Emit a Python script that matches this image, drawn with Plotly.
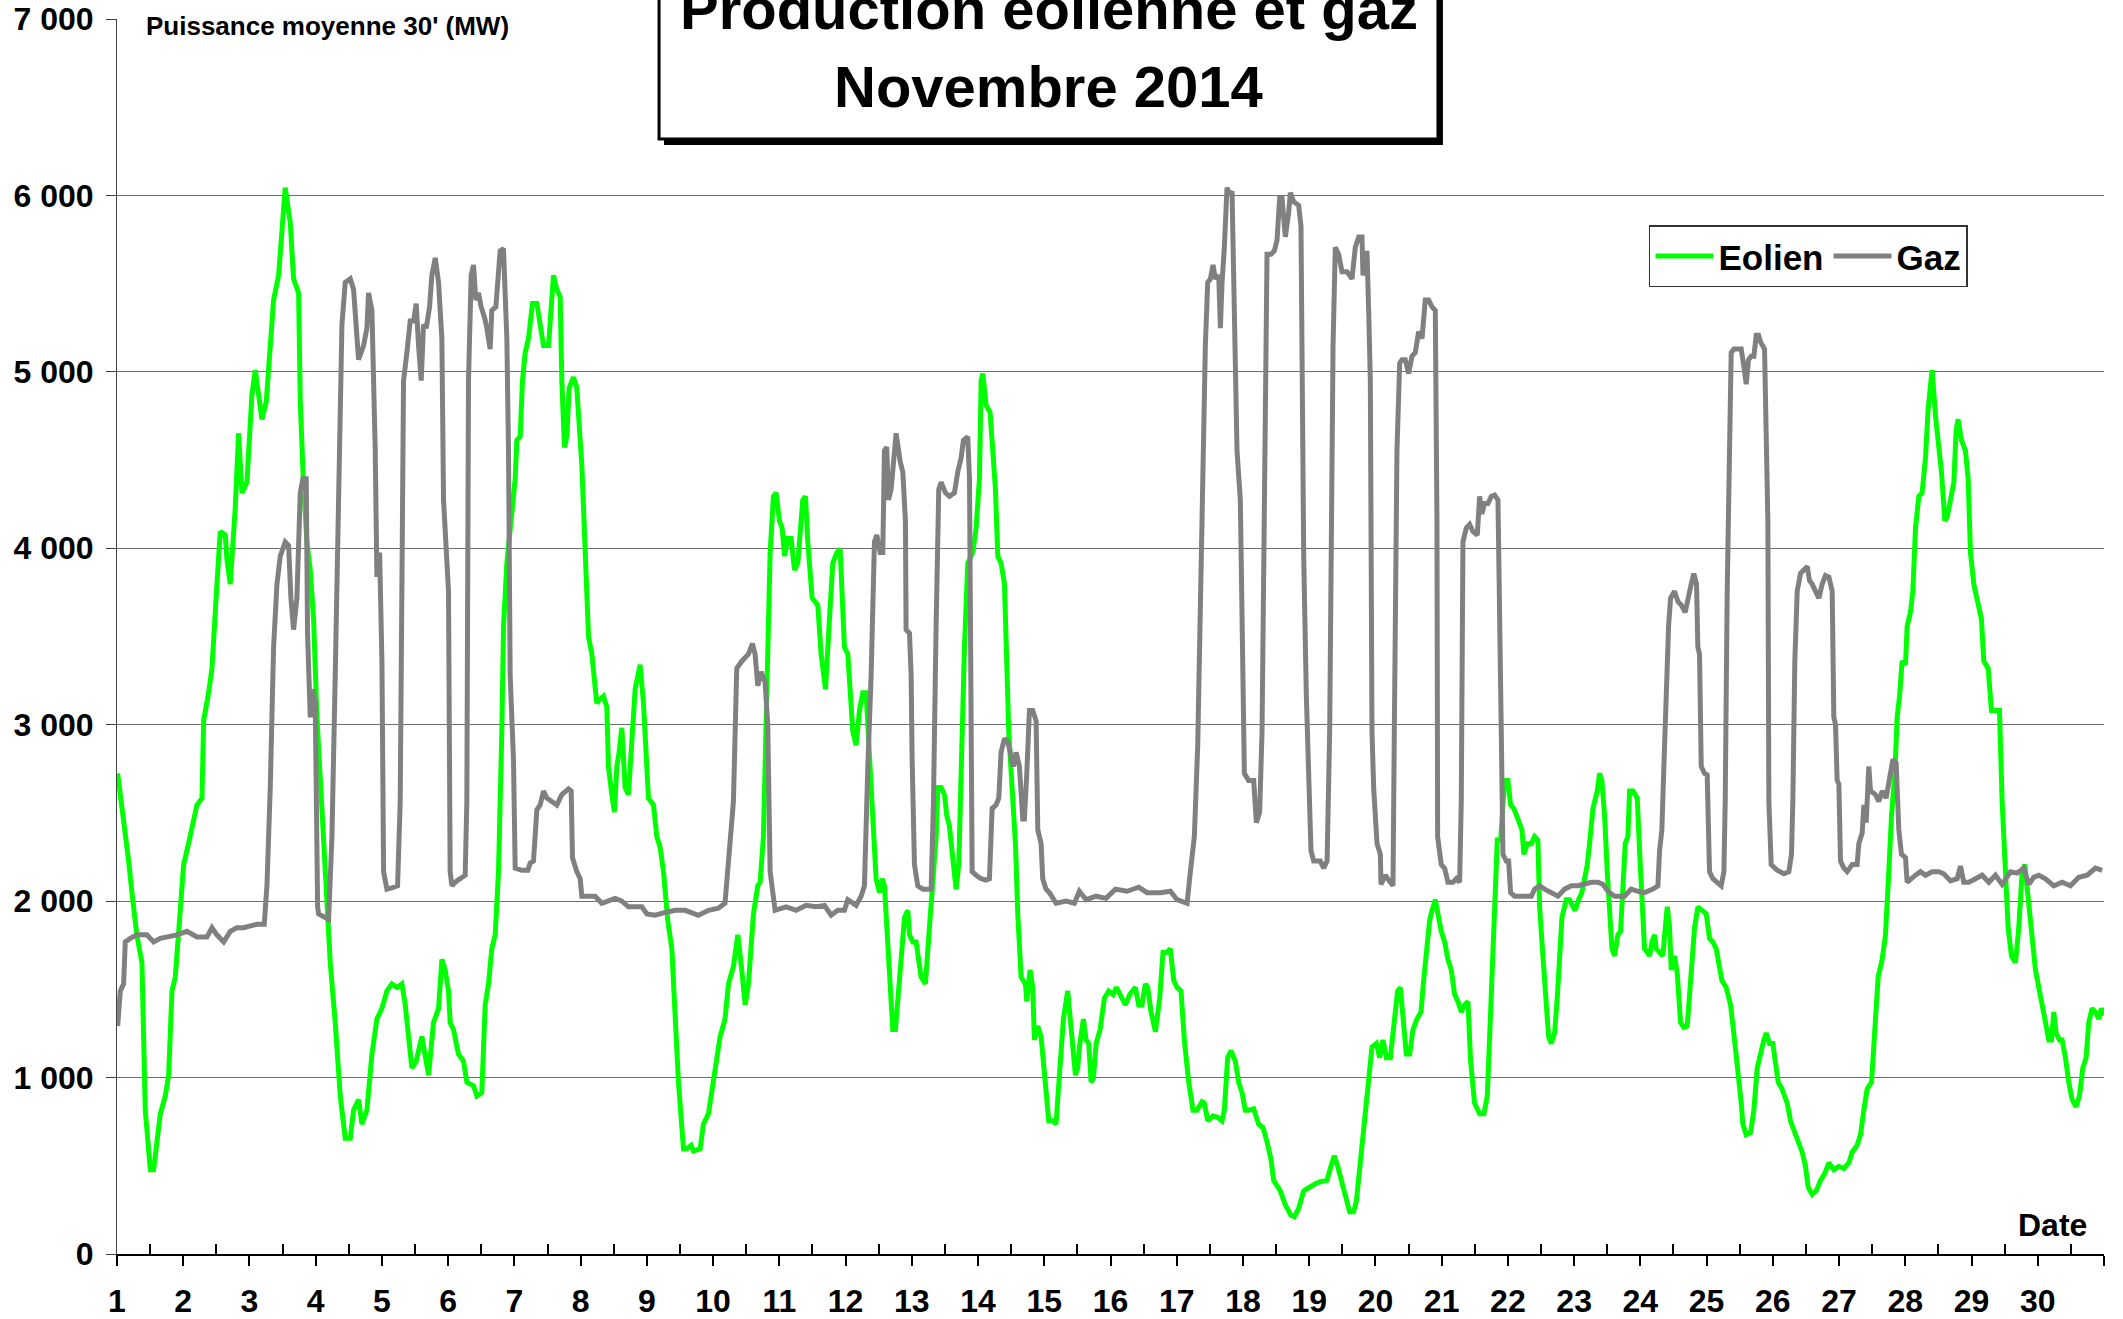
import plotly.graph_objects as go

# ---------------- data (day of month, MW) ----------------
eolien = [
    (1.01, 2724), (1.075, 2545), (1.125, 2386), (1.176, 2227), (1.226, 2048), (1.30, 1809), (1.377, 1650),
    (1.427, 815), (1.503, 477), (1.553, 477), (1.654, 795), (1.729, 895), (1.78, 1014), (1.83, 1491),
    (1.88, 1570), (1.955, 1928), (2.006, 2207), (2.08, 2326), (2.132, 2425), (2.207, 2545), (2.283, 2584),
    (2.308, 3022), (2.383, 3181), (2.434, 3320), (2.509, 3797), (2.559, 4095), (2.635, 4075), (2.66, 3936),
    (2.71, 3797), (2.786, 4234), (2.836, 4652), (2.886, 4314), (2.962, 4374), (3.037, 4870), (3.088, 5010),
    (3.138, 4870), (3.188, 4731), (3.254, 4831), (3.314, 5189), (3.364, 5407), (3.44, 5547), (3.49, 5765),
    (3.54, 6044), (3.616, 5845), (3.666, 5527), (3.742, 5447), (3.767, 4831), (3.817, 4354), (3.868, 4036),
    (3.918, 3877), (3.968, 3598), (4.019, 3042), (4.119, 2366), (4.17, 2008), (4.22, 1650), (4.295, 1312),
    (4.371, 895), (4.446, 656), (4.522, 656), (4.572, 815), (4.647, 875), (4.698, 736), (4.773, 815),
    (4.849, 1133), (4.924, 1332), (5.0, 1392), (5.075, 1491), (5.15, 1531), (5.226, 1511), (5.301, 1531),
    (5.352, 1412), (5.452, 1054), (5.518, 1093), (5.603, 1233), (5.704, 1014), (5.779, 1312), (5.855, 1392),
    (5.905, 1670), (5.955, 1610), (6.005, 1491), (6.03, 1312), (6.08, 1272), (6.156, 1133), (6.232, 1093),
    (6.282, 974), (6.383, 954), (6.433, 895), (6.508, 915), (6.559, 1412), (6.609, 1531), (6.659, 1730),
    (6.71, 1809), (6.76, 2167), (6.81, 2962), (6.836, 3559), (6.886, 3916), (6.936, 4115), (7.012, 4394),
    (7.037, 4612), (7.087, 4632), (7.122, 4950), (7.163, 5109), (7.213, 5189), (7.273, 5388), (7.339, 5388),
    (7.389, 5268), (7.439, 5149), (7.515, 5149), (7.565, 5427), (7.59, 5547), (7.64, 5467), (7.691, 5427),
    (7.716, 4950), (7.756, 4572), (7.792, 4632), (7.827, 4910), (7.892, 4970), (7.942, 4910), (8.018, 4473),
    (8.068, 4036), (8.119, 3499), (8.169, 3400), (8.209, 3201), (8.244, 3121), (8.28, 3141), (8.345, 3161),
    (8.395, 3101), (8.42, 2763), (8.471, 2604), (8.511, 2505), (8.546, 2763), (8.581, 2843), (8.622, 2982),
    (8.672, 2644), (8.722, 2604), (8.773, 2962), (8.823, 3201), (8.898, 3340), (8.949, 3121), (9.024, 2584),
    (9.1, 2545), (9.15, 2366), (9.2, 2306), (9.251, 2167), (9.316, 1889), (9.377, 1730), (9.427, 1332),
    (9.477, 974), (9.553, 596), (9.603, 596), (9.668, 616), (9.704, 584), (9.804, 596), (9.854, 736),
    (9.93, 795), (9.98, 934), (10.056, 1113), (10.106, 1233), (10.18, 1332), (10.232, 1531), (10.307, 1630),
    (10.373, 1809), (10.433, 1610), (10.484, 1412), (10.534, 1531), (10.584, 1769), (10.609, 1928),
    (10.675, 2087), (10.71, 2107), (10.76, 2366), (10.795, 2962), (10.825, 3519), (10.861, 3976),
    (10.911, 4294), (10.952, 4314), (11.002, 4155), (11.043, 4115), (11.078, 3956), (11.128, 4056),
    (11.178, 4056), (11.229, 3877), (11.279, 3916), (11.304, 4075), (11.354, 4274), (11.395, 4294),
    (11.43, 4036), (11.495, 3718), (11.581, 3678), (11.631, 3400), (11.697, 3201), (11.757, 3598),
    (11.807, 3916), (11.868, 3976), (11.918, 3996), (11.983, 3439), (12.034, 3400), (12.109, 2962),
    (12.159, 2883), (12.21, 3081), (12.26, 3181), (12.31, 3181), (12.36, 2843), (12.411, 2485), (12.461, 2127),
    (12.512, 2048), (12.552, 2127), (12.587, 2087), (12.638, 1769), (12.713, 1272), (12.753, 1272),
    (12.814, 1531), (12.89, 1908), (12.94, 1948), (12.965, 1809), (13.015, 1769), (13.065, 1769),
    (13.141, 1570), (13.206, 1531), (13.266, 1849), (13.317, 2127), (13.367, 2366), (13.392, 2644),
    (13.443, 2644), (13.493, 2604), (13.528, 2485), (13.568, 2425), (13.619, 2207), (13.669, 2068),
    (13.709, 2207), (13.745, 2763), (13.795, 3439), (13.845, 3916), (13.921, 3976), (13.971, 4115),
    (14.021, 4394), (14.047, 4950), (14.072, 4990), (14.122, 4811), (14.182, 4771), (14.223, 4553),
    (14.263, 4334), (14.298, 3956), (14.348, 3916), (14.399, 3797), (14.424, 3360), (14.464, 2962),
    (14.514, 2644), (14.565, 2326), (14.6, 1928), (14.65, 1570), (14.716, 1531), (14.736, 1431),
    (14.786, 1610), (14.826, 1511), (14.851, 1213), (14.902, 1292), (14.952, 1233), (15.002, 1014),
    (15.068, 755), (15.128, 755), (15.178, 736), (15.229, 1014), (15.289, 1332), (15.354, 1491),
    (15.405, 1252), (15.47, 1014), (15.505, 1054), (15.53, 1173), (15.591, 1332), (15.631, 1213),
    (15.672, 1193), (15.707, 974), (15.742, 994), (15.783, 1193), (15.843, 1272), (15.908, 1451),
    (15.973, 1491), (16.039, 1471), (16.089, 1511), (16.149, 1471), (16.225, 1412), (16.29, 1471),
    (16.376, 1511), (16.426, 1412), (16.476, 1412), (16.527, 1531), (16.562, 1511), (16.612, 1372),
    (16.678, 1260), (16.743, 1451), (16.793, 1710), (16.854, 1710), (16.904, 1730), (16.954, 1551),
    (17.005, 1511), (17.065, 1491), (17.115, 1213), (17.181, 974), (17.246, 815), (17.306, 815),
    (17.382, 863), (17.417, 855), (17.468, 755), (17.548, 783), (17.618, 775), (17.684, 755), (17.719, 815),
    (17.769, 1113), (17.82, 1153), (17.885, 1093), (17.935, 974), (17.986, 915), (18.036, 815), (18.086, 815),
    (18.162, 823), (18.237, 736), (18.303, 716), (18.363, 636), (18.423, 537), (18.464, 417), (18.564, 358),
    (18.64, 278), (18.725, 219), (18.776, 211), (18.841, 258), (18.917, 358), (18.992, 378), (19.093, 398),
    (19.168, 410), (19.268, 417), (19.329, 497), (19.379, 557), (19.43, 497), (19.495, 398), (19.56, 298),
    (19.611, 239), (19.671, 239), (19.712, 298), (19.782, 557), (19.848, 795), (19.913, 1014), (19.948, 1173),
    (20.014, 1193), (20.064, 1113), (20.114, 1213), (20.165, 1113), (20.225, 1113), (20.285, 1292),
    (20.335, 1491), (20.376, 1511), (20.416, 1332), (20.466, 1133), (20.517, 1133), (20.567, 1272),
    (20.627, 1332), (20.688, 1372), (20.728, 1551), (20.768, 1730), (20.818, 1889), (20.854, 1948),
    (20.904, 2008), (20.994, 1829), (21.045, 1769), (21.095, 1670), (21.145, 1610), (21.196, 1471),
    (21.246, 1431), (21.296, 1372), (21.346, 1412), (21.397, 1431), (21.437, 1093), (21.497, 855),
    (21.573, 795), (21.638, 795), (21.689, 895), (21.739, 1372), (21.79, 1968), (21.84, 2346), (21.89, 2346),
    (21.95, 2684), (22.0, 2684), (22.041, 2545), (22.091, 2525), (22.152, 2465), (22.212, 2405),
    (22.242, 2266), (22.292, 2326), (22.353, 2326), (22.403, 2366), (22.453, 2346), (22.479, 1968),
    (22.514, 1769), (22.564, 1491), (22.614, 1233), (22.655, 1193), (22.705, 1252), (22.745, 1451),
    (22.781, 1690), (22.816, 1908), (22.881, 2008), (22.931, 2008), (22.982, 1968), (23.017, 1948),
    (23.067, 2008), (23.117, 2048), (23.158, 2127), (23.198, 2207), (23.233, 2326), (23.284, 2525),
    (23.349, 2624), (23.384, 2724), (23.419, 2684), (23.46, 2485), (23.5, 2167), (23.535, 1928),
    (23.571, 1730), (23.611, 1690), (23.661, 1809), (23.701, 1829), (23.737, 2048), (23.772, 2326),
    (23.812, 2366), (23.837, 2624), (23.887, 2624), (23.953, 2584), (23.988, 2286), (24.023, 2048),
    (24.063, 1730), (24.104, 1710), (24.139, 1690), (24.174, 1769), (24.214, 1809), (24.24, 1730),
    (24.29, 1710), (24.34, 1690), (24.366, 1809), (24.406, 1968), (24.441, 1849), (24.466, 1610),
    (24.517, 1690), (24.557, 1590), (24.607, 1312), (24.657, 1284), (24.708, 1292), (24.768, 1610),
    (24.818, 1849), (24.869, 1968), (24.944, 1948), (24.994, 1928), (25.044, 1789), (25.095, 1769),
    (25.145, 1730), (25.195, 1630), (25.231, 1551), (25.296, 1511), (25.362, 1412), (25.422, 1213),
    (25.472, 1054), (25.523, 855), (25.548, 736), (25.598, 676), (25.664, 688), (25.714, 815), (25.764, 1054),
    (25.815, 1153), (25.865, 1213), (25.9, 1252), (25.95, 1193), (26.0, 1193), (26.081, 974), (26.141, 934),
    (26.217, 855), (26.267, 755), (26.332, 696), (26.393, 636), (26.443, 577), (26.493, 497), (26.534, 378),
    (26.594, 338), (26.655, 358), (26.72, 417), (26.785, 457), (26.846, 517), (26.921, 477), (26.997, 497),
    (27.072, 485), (27.148, 517), (27.198, 577), (27.273, 616), (27.324, 676), (27.374, 815), (27.424, 934),
    (27.49, 974), (27.54, 1252), (27.59, 1570), (27.651, 1670), (27.701, 1809), (27.751, 2167), (27.792, 2485),
    (27.842, 2724), (27.877, 3042), (27.913, 3161), (27.952, 3360), (28.003, 3340), (28.028, 3559),
    (28.078, 3638), (28.114, 3757), (28.154, 4115), (28.204, 4294), (28.254, 4314), (28.305, 4513),
    (28.345, 4791), (28.38, 4890), (28.405, 5010), (28.456, 4751), (28.506, 4573), (28.546, 4433),
    (28.597, 4155), (28.632, 4175), (28.682, 4274), (28.733, 4374), (28.768, 4672), (28.798, 4731),
    (28.848, 4612), (28.908, 4553), (28.949, 4394), (28.984, 3976), (29.034, 3797), (29.1, 3678),
    (29.15, 3598), (29.185, 3360), (29.251, 3320), (29.301, 3081), (29.362, 3081), (29.422, 3081),
    (29.462, 2565), (29.512, 2207), (29.553, 1849), (29.603, 1690), (29.663, 1650), (29.713, 1849),
    (29.764, 2167), (29.804, 2207), (29.854, 2008), (29.915, 1809), (29.965, 1610), (30.016, 1511),
    (30.066, 1412), (30.126, 1312), (30.167, 1213), (30.207, 1213), (30.242, 1372), (30.277, 1252),
    (30.327, 1213), (30.368, 1213), (30.418, 1113), (30.468, 974), (30.519, 875), (30.579, 835),
    (30.629, 895), (30.68, 1054), (30.73, 1113), (30.77, 1312), (30.82, 1392), (30.871, 1372),
    (30.921, 1332), (30.961, 1392), (30.997, 1352),
]

gaz = [
    (1.01, 1292), (1.05, 1491), (1.10, 1531), (1.125, 1769), (1.2, 1789), (1.3, 1809), (1.45, 1809),
    (1.553, 1769), (1.654, 1789), (1.905, 1809), (2.056, 1829), (2.207, 1797), (2.358, 1797), (2.434, 1849),
    (2.509, 1809), (2.61, 1769), (2.71, 1829), (2.81, 1849), (2.91, 1849), (3.012, 1857), (3.113, 1869),
    (3.223, 1869), (3.264, 2087), (3.314, 2644), (3.364, 3439), (3.415, 3797), (3.465, 3956), (3.54, 4036),
    (3.591, 4016), (3.626, 3717), (3.666, 3539), (3.716, 3717), (3.767, 4314), (3.807, 4394), (3.857, 4394),
    (3.877, 3519), (3.918, 3042), (3.958, 3201), (3.993, 3121), (4.029, 1968), (4.044, 1928), (4.195, 1897),
    (4.245, 2366), (4.295, 3280), (4.345, 4354), (4.396, 5268), (4.446, 5507), (4.522, 5527), (4.572, 5467),
    (4.612, 5189), (4.647, 5069), (4.723, 5149), (4.773, 5248), (4.798, 5447), (4.849, 5348), (4.899, 4553),
    (4.924, 3837), (4.965, 3976), (5.0, 3360), (5.025, 2167), (5.075, 2068), (5.15, 2075), (5.236, 2087),
    (5.276, 2565), (5.326, 4950), (5.377, 5109), (5.427, 5288), (5.477, 5288), (5.518, 5387), (5.553, 5149),
    (5.593, 4950), (5.628, 5268), (5.669, 5248), (5.719, 5368), (5.754, 5547), (5.805, 5646), (5.855, 5507),
    (5.905, 5189), (5.93, 4274), (6.005, 3757), (6.03, 2167), (6.056, 2087), (6.131, 2115), (6.257, 2147),
    (6.282, 2565), (6.307, 4950), (6.347, 5547), (6.383, 5606), (6.418, 5407), (6.458, 5447), (6.498, 5368),
    (6.549, 5308), (6.584, 5248), (6.634, 5129), (6.659, 5348), (6.72, 5368), (6.75, 5527), (6.785, 5686),
    (6.835, 5698), (6.886, 5189), (6.911, 4553), (6.936, 3280), (6.986, 2803), (7.012, 2187), (7.112, 2175),
    (7.203, 2175), (7.238, 2215), (7.288, 2227), (7.339, 2517), (7.389, 2545), (7.439, 2624), (7.49, 2584),
    (7.565, 2565), (7.641, 2545), (7.716, 2604), (7.817, 2636), (7.857, 2624), (7.877, 2246), (7.942, 2167),
    (7.993, 2127), (8.018, 2028), (8.119, 2028), (8.219, 2028), (8.32, 1988), (8.42, 2000), (8.521, 2016),
    (8.622, 2000), (8.722, 1968), (8.823, 1968), (8.924, 1968), (9.0, 1928), (9.125, 1920), (9.276, 1936),
    (9.427, 1948), (9.578, 1948), (9.678, 1936), (9.779, 1920), (9.93, 1948), (10.08, 1960), (10.18, 1988),
    (10.23, 2246), (10.307, 2565), (10.357, 3320), (10.433, 3360), (10.533, 3400), (10.594, 3459),
    (10.634, 3400), (10.675, 3221), (10.725, 3300), (10.785, 3241), (10.825, 3002), (10.861, 2167),
    (10.936, 1948), (11.103, 1968), (11.254, 1948), (11.405, 1976), (11.556, 1968), (11.682, 1976),
    (11.782, 1920), (11.883, 1948), (11.983, 1948), (12.034, 2008), (12.159, 1976), (12.235, 2028),
    (12.285, 2087), (12.3, 2326), (12.336, 2763), (12.386, 3280), (12.436, 4036), (12.471, 4075),
    (12.522, 3976), (12.562, 3976), (12.587, 4553), (12.622, 4573), (12.648, 4274), (12.688, 4334),
    (12.723, 4473), (12.763, 4652), (12.824, 4493), (12.864, 4433), (12.904, 4155), (12.914, 3539),
    (12.965, 3519), (12.99, 3280), (13.005, 2803), (13.04, 2207), (13.09, 2087), (13.166, 2068),
    (13.292, 2068), (13.327, 2565), (13.367, 3559), (13.407, 4334), (13.443, 4374), (13.508, 4314),
    (13.568, 4294), (13.644, 4314), (13.694, 4433), (13.745, 4513), (13.78, 4612), (13.845, 4632),
    (13.871, 4394), (13.896, 3360), (13.911, 2167), (13.971, 2147), (14.047, 2127), (14.122, 2119),
    (14.172, 2127), (14.213, 2525), (14.273, 2545), (14.313, 2584), (14.348, 2843), (14.399, 2922),
    (14.449, 2902), (14.499, 2823), (14.534, 2763), (14.575, 2843), (14.625, 2763), (14.675, 2465),
    (14.7, 2465), (14.736, 2724), (14.776, 3081), (14.826, 3081), (14.877, 3022), (14.902, 2405),
    (14.952, 2326), (14.977, 2127), (15.027, 2068), (15.078, 2048), (15.179, 1988), (15.33, 2000),
    (15.455, 1988), (15.53, 2056), (15.631, 2008), (15.783, 2028), (15.933, 2016), (16.074, 2068),
    (16.25, 2056), (16.426, 2079), (16.552, 2048), (16.753, 2048), (16.904, 2056), (17.005, 2008),
    (17.156, 1988), (17.206, 2167), (17.266, 2366), (17.317, 2883), (17.357, 3757), (17.407, 4553),
    (17.432, 5149), (17.468, 5507), (17.508, 5527), (17.548, 5606), (17.583, 5527), (17.634, 5547),
    (17.659, 5248), (17.684, 5507), (17.719, 5706), (17.759, 6044), (17.8, 6004), (17.835, 6024),
    (17.885, 5228), (17.91, 4553), (17.96, 4274), (17.986, 3479), (18.021, 2724), (18.086, 2684),
    (18.162, 2684), (18.202, 2445), (18.252, 2505), (18.288, 2962), (18.313, 4155), (18.338, 5348),
    (18.363, 5666), (18.423, 5666), (18.474, 5686), (18.514, 5745), (18.554, 5984), (18.59, 5984),
    (18.64, 5765), (18.69, 5904), (18.715, 6016), (18.766, 5964), (18.841, 5944), (18.876, 5825),
    (18.892, 4950), (18.917, 3956), (18.957, 3161), (18.992, 2803), (19.027, 2286), (19.068, 2227),
    (19.168, 2227), (19.218, 2187), (19.27, 2227), (19.309, 2962), (19.33, 4155), (19.36, 5149),
    (19.394, 5706), (19.445, 5666), (19.495, 5567), (19.57, 5567), (19.646, 5527), (19.696, 5706),
    (19.747, 5765), (19.797, 5765), (19.812, 5547), (19.872, 5686), (19.898, 5348), (19.923, 4950),
    (19.948, 2962), (19.973, 2644), (20.024, 2326), (20.074, 2266), (20.084, 2095), (20.149, 2147),
    (20.2, 2119), (20.265, 2087), (20.285, 2962), (20.325, 4553), (20.366, 5050), (20.401, 5069),
    (20.451, 5069), (20.501, 4990), (20.552, 5089), (20.602, 5109), (20.652, 5228), (20.703, 5189),
    (20.753, 5407), (20.803, 5407), (20.854, 5368), (20.904, 5348), (20.929, 4155), (20.939, 2366),
    (20.994, 2207), (21.045, 2187), (21.095, 2107), (21.17, 2107), (21.221, 2127), (21.271, 2107),
    (21.296, 2565), (21.321, 4036), (21.372, 4115), (21.422, 4135), (21.472, 4095), (21.538, 4075),
    (21.573, 4294), (21.608, 4195), (21.648, 4254), (21.699, 4254), (21.749, 4294), (21.799, 4302),
    (21.85, 4274), (21.875, 3757), (21.9, 2962), (21.925, 2266), (21.975, 2227), (22.011, 2227),
    (22.041, 2048), (22.101, 2028), (22.252, 2028), (22.353, 2028), (22.403, 2068), (22.479, 2087),
    (22.554, 2068), (22.655, 2048), (22.756, 2028), (22.856, 2068), (22.957, 2087), (23.057, 2087),
    (23.158, 2095), (23.258, 2107), (23.359, 2107), (23.434, 2095), (23.51, 2056), (23.611, 2028),
    (23.762, 2028), (23.862, 2068), (23.963, 2056), (24.063, 2048), (24.19, 2068), (24.265, 2087),
    (24.29, 2286), (24.325, 2405), (24.355, 2763), (24.39, 3280), (24.426, 3559), (24.456, 3717),
    (24.516, 3757), (24.567, 3698), (24.617, 3678), (24.677, 3638), (24.717, 3717), (24.768, 3797),
    (24.808, 3857), (24.848, 3797), (24.868, 3439), (24.893, 3400), (24.919, 2763), (24.969, 2724),
    (25.009, 2716), (25.044, 2167), (25.095, 2127), (25.17, 2107), (25.22, 2087), (25.261, 2167),
    (25.281, 2565), (25.311, 3757), (25.346, 4751), (25.371, 5109), (25.412, 5129), (25.462, 5129),
    (25.523, 5129), (25.563, 5030), (25.598, 4930), (25.633, 5069), (25.673, 5089), (25.714, 5089),
    (25.749, 5208), (25.784, 5208), (25.815, 5169), (25.875, 5129), (25.9, 4751), (25.925, 4155),
    (25.94, 2565), (25.975, 2207), (26.066, 2175), (26.166, 2155), (26.242, 2167), (26.282, 2266),
    (26.302, 2565), (26.332, 3360), (26.368, 3757), (26.418, 3857), (26.468, 3877), (26.519, 3897),
    (26.554, 3817), (26.594, 3797), (26.644, 3757), (26.695, 3717), (26.745, 3797), (26.795, 3845),
    (26.846, 3837), (26.896, 3757), (26.921, 3042), (26.946, 3002), (26.971, 2684), (26.997, 2664),
    (27.022, 2227), (27.072, 2187), (27.122, 2167), (27.198, 2207), (27.273, 2207), (27.298, 2326),
    (27.349, 2386), (27.374, 2545), (27.409, 2445), (27.449, 2763), (27.475, 2624), (27.55, 2604),
    (27.6, 2565), (27.651, 2624), (27.711, 2584), (27.761, 2704), (27.812, 2803), (27.862, 2783),
    (27.902, 2405), (27.942, 2266), (28.003, 2246), (28.028, 2107), (28.078, 2127), (28.154, 2147),
    (28.229, 2167), (28.305, 2147), (28.405, 2167), (28.506, 2167), (28.581, 2155), (28.682, 2115),
    (28.783, 2127), (28.833, 2199), (28.883, 2107), (28.959, 2107), (29.06, 2127), (29.16, 2147),
    (29.261, 2107), (29.361, 2147), (29.462, 2095), (29.512, 2127), (29.588, 2167), (29.689, 2159),
    (29.789, 2187), (29.865, 2095), (29.94, 2135), (30.016, 2147), (30.116, 2127), (30.242, 2087),
    (30.368, 2107), (30.493, 2087), (30.619, 2135), (30.745, 2147), (30.871, 2187), (30.972, 2175),
]

jours = list(range(1, 31))
jour_labels = [str(j) for j in jours]
y_ticks = [0, 1000, 2000, 3000, 4000, 5000, 6000, 7000]
y_labels = ["0", "1 000", "2 000", "3 000", "4 000", "5 000", "6 000", "7 000"]

titre_l1 = "Production éolienne et gaz"
titre_l2 = "Novembre 2014"
unite = "Puissance moyenne 30' (MW)"

FONT = "Arial, 'Liberation Sans', sans-serif"

eol_x = [p[0] for p in eolien]
eol_y = [p[1] for p in eolien]
gaz_x = [p[0] for p in gaz]
gaz_y = [p[1] for p in gaz]

fig = go.Figure()
fig.add_trace(go.Scatter(x=eol_x, y=eol_y, mode="lines", name="Eolien",
                         line=dict(color="#00FF00", width=5)))
fig.add_trace(go.Scatter(x=gaz_x, y=gaz_y, mode="lines", name="Gaz",
                         line=dict(color="#808080", width=5)))

fig.update_layout(
    width=2123, height=1319,
    margin=dict(l=117, r=19, t=19, b=65, autoexpand=False),
    paper_bgcolor="white", plot_bgcolor="white",
    font=dict(family=FONT, color="black"),
    showlegend=True,
    legend=dict(orientation="h", x=0.771, y=0.833, xanchor="left", yanchor="top",
                bgcolor="white", bordercolor="#333333", borderwidth=1.5,
                font=dict(size=35, weight="bold", family=FONT), itemwidth=58,
                tracegroupgap=0),
    xaxis=dict(range=[1, 31], tickmode="array", tickvals=jours + [31], ticktext=jour_labels + [""],
               ticks="outside", ticklen=10, tickwidth=1.5, tickcolor="black", automargin=False,
               showline=True, linecolor="black", linewidth=2, showgrid=False, zeroline=False,
               tickfont=dict(size=32, weight="bold", family=FONT), ticklabelstandoff=8,
               minor=dict(tickmode="array", tickvals=[j + 0.5 for j in jours], ticks="inside",
                          ticklen=10, tickwidth=1.5, tickcolor="black", showgrid=False)),
    yaxis=dict(range=[0, 7000], tickmode="array", tickvals=y_ticks, ticktext=y_labels,
               ticks="outside", ticklen=10, tickwidth=1, tickcolor="#404040", automargin=False,
               showline=True, linecolor="#404040", linewidth=1,
               showgrid=True, gridcolor="#6e6e6e", gridwidth=1, zeroline=False,
               tickfont=dict(size=32, weight="bold", family=FONT), ticklabelstandoff=6),
    shapes=[
        dict(type="rect", xref="paper", yref="paper", x0=0.2753, x1=0.6673, y0=0.898, y1=1.2,
             fillcolor="black", line=dict(width=0), layer="above"),
        dict(type="rect", xref="paper", yref="paper", x0=0.2728, x1=0.6648, y0=0.9028, y1=1.2,
             fillcolor="white", line=dict(color="black", width=3), layer="above"),
    ],
    annotations=[
        dict(text=titre_l1, xref="paper", yref="paper", x=0.4688, y=1.0081, xanchor="center",
             yanchor="middle", showarrow=False, font=dict(size=58, weight="bold", family=FONT)),
        dict(text=titre_l2, xref="paper", yref="paper", x=0.4688, y=0.9457, xanchor="center",
             yanchor="middle", showarrow=False, font=dict(size=58, weight="bold", family=FONT)),
        dict(text=unite, xref="paper", yref="paper", x=0.0141, y=0.9943, xanchor="left",
             yanchor="middle", showarrow=False, bgcolor="white", borderpad=0,
             font=dict(size=26, weight="bold", family=FONT)),
        dict(text="Date", xref="paper", yref="paper", x=0.9925, y=0.0235, xanchor="right",
             yanchor="middle", showarrow=False, font=dict(size=32, weight="bold", family=FONT)),
    ],
)

fig.write_html(
    "out.html",
    config={"displayModeBar": False},
    post_script="document.body.style.margin='0';document.body.style.overflow='hidden';",
)
